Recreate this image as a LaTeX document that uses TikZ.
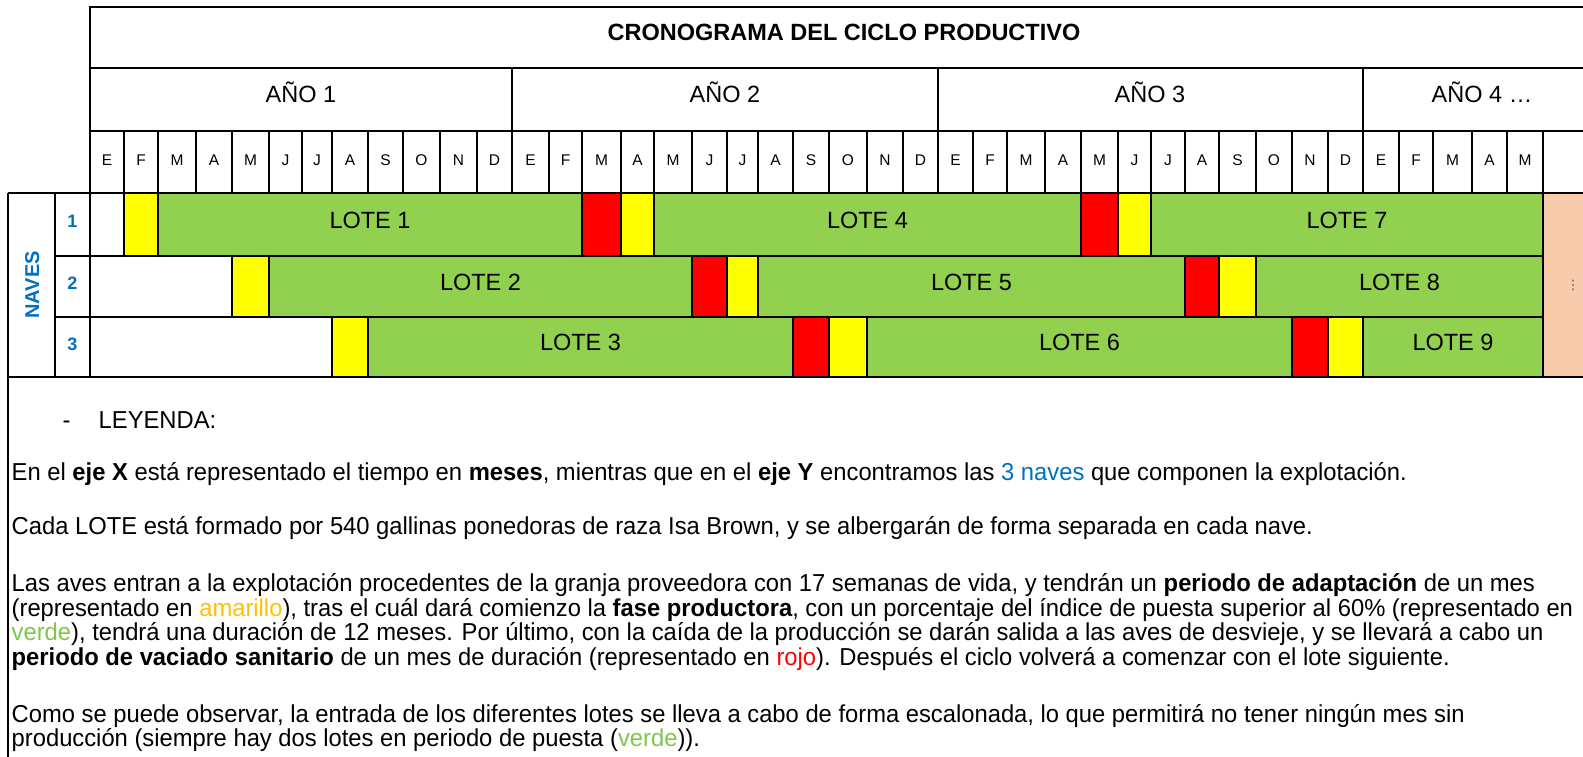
\documentclass[tikz,border=0pt]{standalone}
\usepackage{fontspec}
\setmainfont{Liberation Sans}
\newfontfamily\narrowfont{Liberation Sans}[FakeStretch=0.97]
\newfontfamily\symfont{DejaVu Sans}
\usetikzlibrary{calc}
\definecolor{lotegreen}{HTML}{92D050}
\definecolor{loteyellow}{HTML}{FFFF00}
\definecolor{lotered}{HTML}{FF0000}
\definecolor{peach}{HTML}{F8CBAD}
\definecolor{naveblue}{HTML}{0070C0}
\definecolor{amarillo}{HTML}{FFC000}
\definecolor{verde}{HTML}{7FC64A}
\begin{document}
\begin{tikzpicture}
[x=1pt, y=-1pt, line width=1.4pt,
 cell/.style={font=\fontsize{23.5}{23.5}\selectfont, text height=.72em, text depth=0pt, inner sep=0pt},
 month/.style={font=\fontsize{15.5}{15.5}\selectfont, text height=.72em, text depth=0pt, inner sep=0pt},
 nave/.style={font=\fontsize{18}{18}\selectfont\bfseries, text=naveblue, text height=.72em, text depth=0pt, inner sep=0pt},
 legend/.style={anchor=base west, inner sep=0pt, font=\narrowfont\fontsize{24.5}{24.5}\selectfont}]
\useasboundingbox (0,0) rectangle (1583,757);
% month boundaries and rows
\foreach \x [count=\i from 0] in {90,124,158,196,232,269,302,332,368,403,440,477,512,549,582,621,654,692,727,758,793,829,867,903,938,973,1007,1045,1081,1118,1151,1185,1219,1256,1292,1328,1363,1399,1433,1472,1507,1543}
  \coordinate (m\i) at (\x,0);
\coordinate (r0) at (0,193);
\coordinate (r1) at (0,256);
\coordinate (r2) at (0,317);
\coordinate (r3) at (0,377);
% lotes
\foreach \t/\u/\a/\b/\col/\lab [count=\k] in {
  0/1/0/1/white/{}, 0/1/1/2/loteyellow/{}, 0/1/2/14/lotegreen/LOTE 1,
  0/1/14/15/lotered/{}, 0/1/15/16/loteyellow/{}, 0/1/16/28/lotegreen/LOTE 4,
  0/1/28/29/lotered/{}, 0/1/29/30/loteyellow/{}, 0/1/30/41/lotegreen/LOTE 7,
  1/2/0/4/white/{}, 1/2/4/5/loteyellow/{}, 1/2/5/17/lotegreen/LOTE 2,
  1/2/17/18/lotered/{}, 1/2/18/19/loteyellow/{}, 1/2/19/31/lotegreen/LOTE 5,
  1/2/31/32/lotered/{}, 1/2/32/33/loteyellow/{}, 1/2/33/41/lotegreen/LOTE 8,
  2/3/0/7/white/{}, 2/3/7/8/loteyellow/{}, 2/3/8/20/lotegreen/LOTE 3,
  2/3/20/21/lotered/{}, 2/3/21/22/loteyellow/{}, 2/3/22/34/lotegreen/LOTE 6,
  2/3/34/35/lotered/{}, 2/3/35/36/loteyellow/{}, 2/3/36/41/lotegreen/LOTE 9}
{
  \draw[fill=\col] (m\a |- r\t) rectangle (m\b |- r\u);
  \path (m\a |- r\t) -- (m\b |- r\u) node[cell, midway] (lote\k) {\lab};
}
\draw[fill=peach] (m41 |- r0) rectangle (1600,377);
\node[font=\symfont\fontsize{13}{13}\selectfont, text=black!70, inner sep=0pt] (dots) at (1573,285) {⋮};
% header
\draw (90,377) -- (90,7) -- (1600,7);
\draw (90,68) -- (1600,68);
\draw (90,131) -- (1600,131);
\draw (8,193) -- (1600,193);
\foreach \x in {512,938,1363}
  \draw (\x,68) -- (\x,131);
\foreach \i in {1,...,41}
  \draw (m\i |- 0,131) -- (m\i |- r0);
\node[cell, font=\fontsize{23.5}{23.5}\selectfont\bfseries] (titulo) at (844,37) {CRONOGRAMA DEL CICLO PRODUCTIVO};
\node[cell] (anio1) at (301,99) {AÑO 1};
\node[cell] (anio2) at (725,99) {AÑO 2};
\node[cell] (anio3) at (1150,99) {AÑO 3};
\node[cell] (anio4) at (1482,99) {AÑO 4 …};
\foreach \l [count=\j] in {E,F,M,A,M,J,J,A,S,O,N,D,E,F,M,A,M,J,J,A,S,O,N,D,E,F,M,A,M,J,J,A,S,O,N,D,E,F,M,A,M}
{
  \pgfmathtruncatemacro\i{\j-1}
  \node[month] (mes\j) at ($(m\i)!.5!(m\j)+(0,162)$) {\l};
}
% naves
\draw (55,256) -- (1543,256);
\draw (55,317) -- (1543,317);
\draw (8,377) -- (1600,377);
\draw (8,193) -- (8,757);
\draw (55,193) -- (55,377);
\node[nave, font=\fontsize{20}{20}\selectfont\bfseries, rotate=90] (naves) at (35.5,285) {NAVES};
\node[nave] (nave1) at (72.5,224) {1};
\node[nave] (nave2) at (72.5,286) {2};
\node[nave] (nave3) at (72.5,347) {3};
% leyenda
\node[legend] (guion) at (62,428) {-};
\node[legend] (leyenda) at (98,428) {LEYENDA:};
\node[legend] (linea1) at (11,480) {En el \textbf{eje X} está representado el tiempo en \textbf{meses}, mientras que en el \textbf{eje Y} encontramos las \textcolor{naveblue}{3 naves} que componen la explotación.};
\node[legend] (linea2) at (11,534) {Cada LOTE está formado por 540 gallinas ponedoras de raza Isa Brown, y se albergarán de forma separada en cada nave.};
\node[legend] (linea3) at (11,591) {Las aves entran a la explotación procedentes de la granja proveedora con 17 semanas de vida, y tendrán un \textbf{periodo de adaptación} de un mes};
\node[legend] (linea4) at (11,616) {(representado en \textcolor{amarillo}{amarillo}), tras el cuál dará comienzo la \textbf{fase productora}, con un porcentaje del índice de puesta superior al 60\% (representado en};
\node[legend] (linea5) at (11,640) {\textcolor{verde}{verde}), tendrá una duración de 12 meses. Por último, con la caída de la producción se darán salida a las aves de desvieje, y se llevará a cabo un};
\node[legend] (linea6) at (11,665) {\textbf{periodo de vaciado sanitario} de un mes de duración (representado en \textcolor{lotered}{rojo}). Después el ciclo volverá a comenzar con el lote siguiente.};
\node[legend] (linea7) at (11,722) {Como se puede observar, la entrada de los diferentes lotes se lleva a cabo de forma escalonada, lo que permitirá no tener ningún mes sin};
\node[legend] (linea8) at (11,746) {producción (siempre hay dos lotes en periodo de puesta (\textcolor{verde}{verde})).};
\end{tikzpicture}
\end{document}
